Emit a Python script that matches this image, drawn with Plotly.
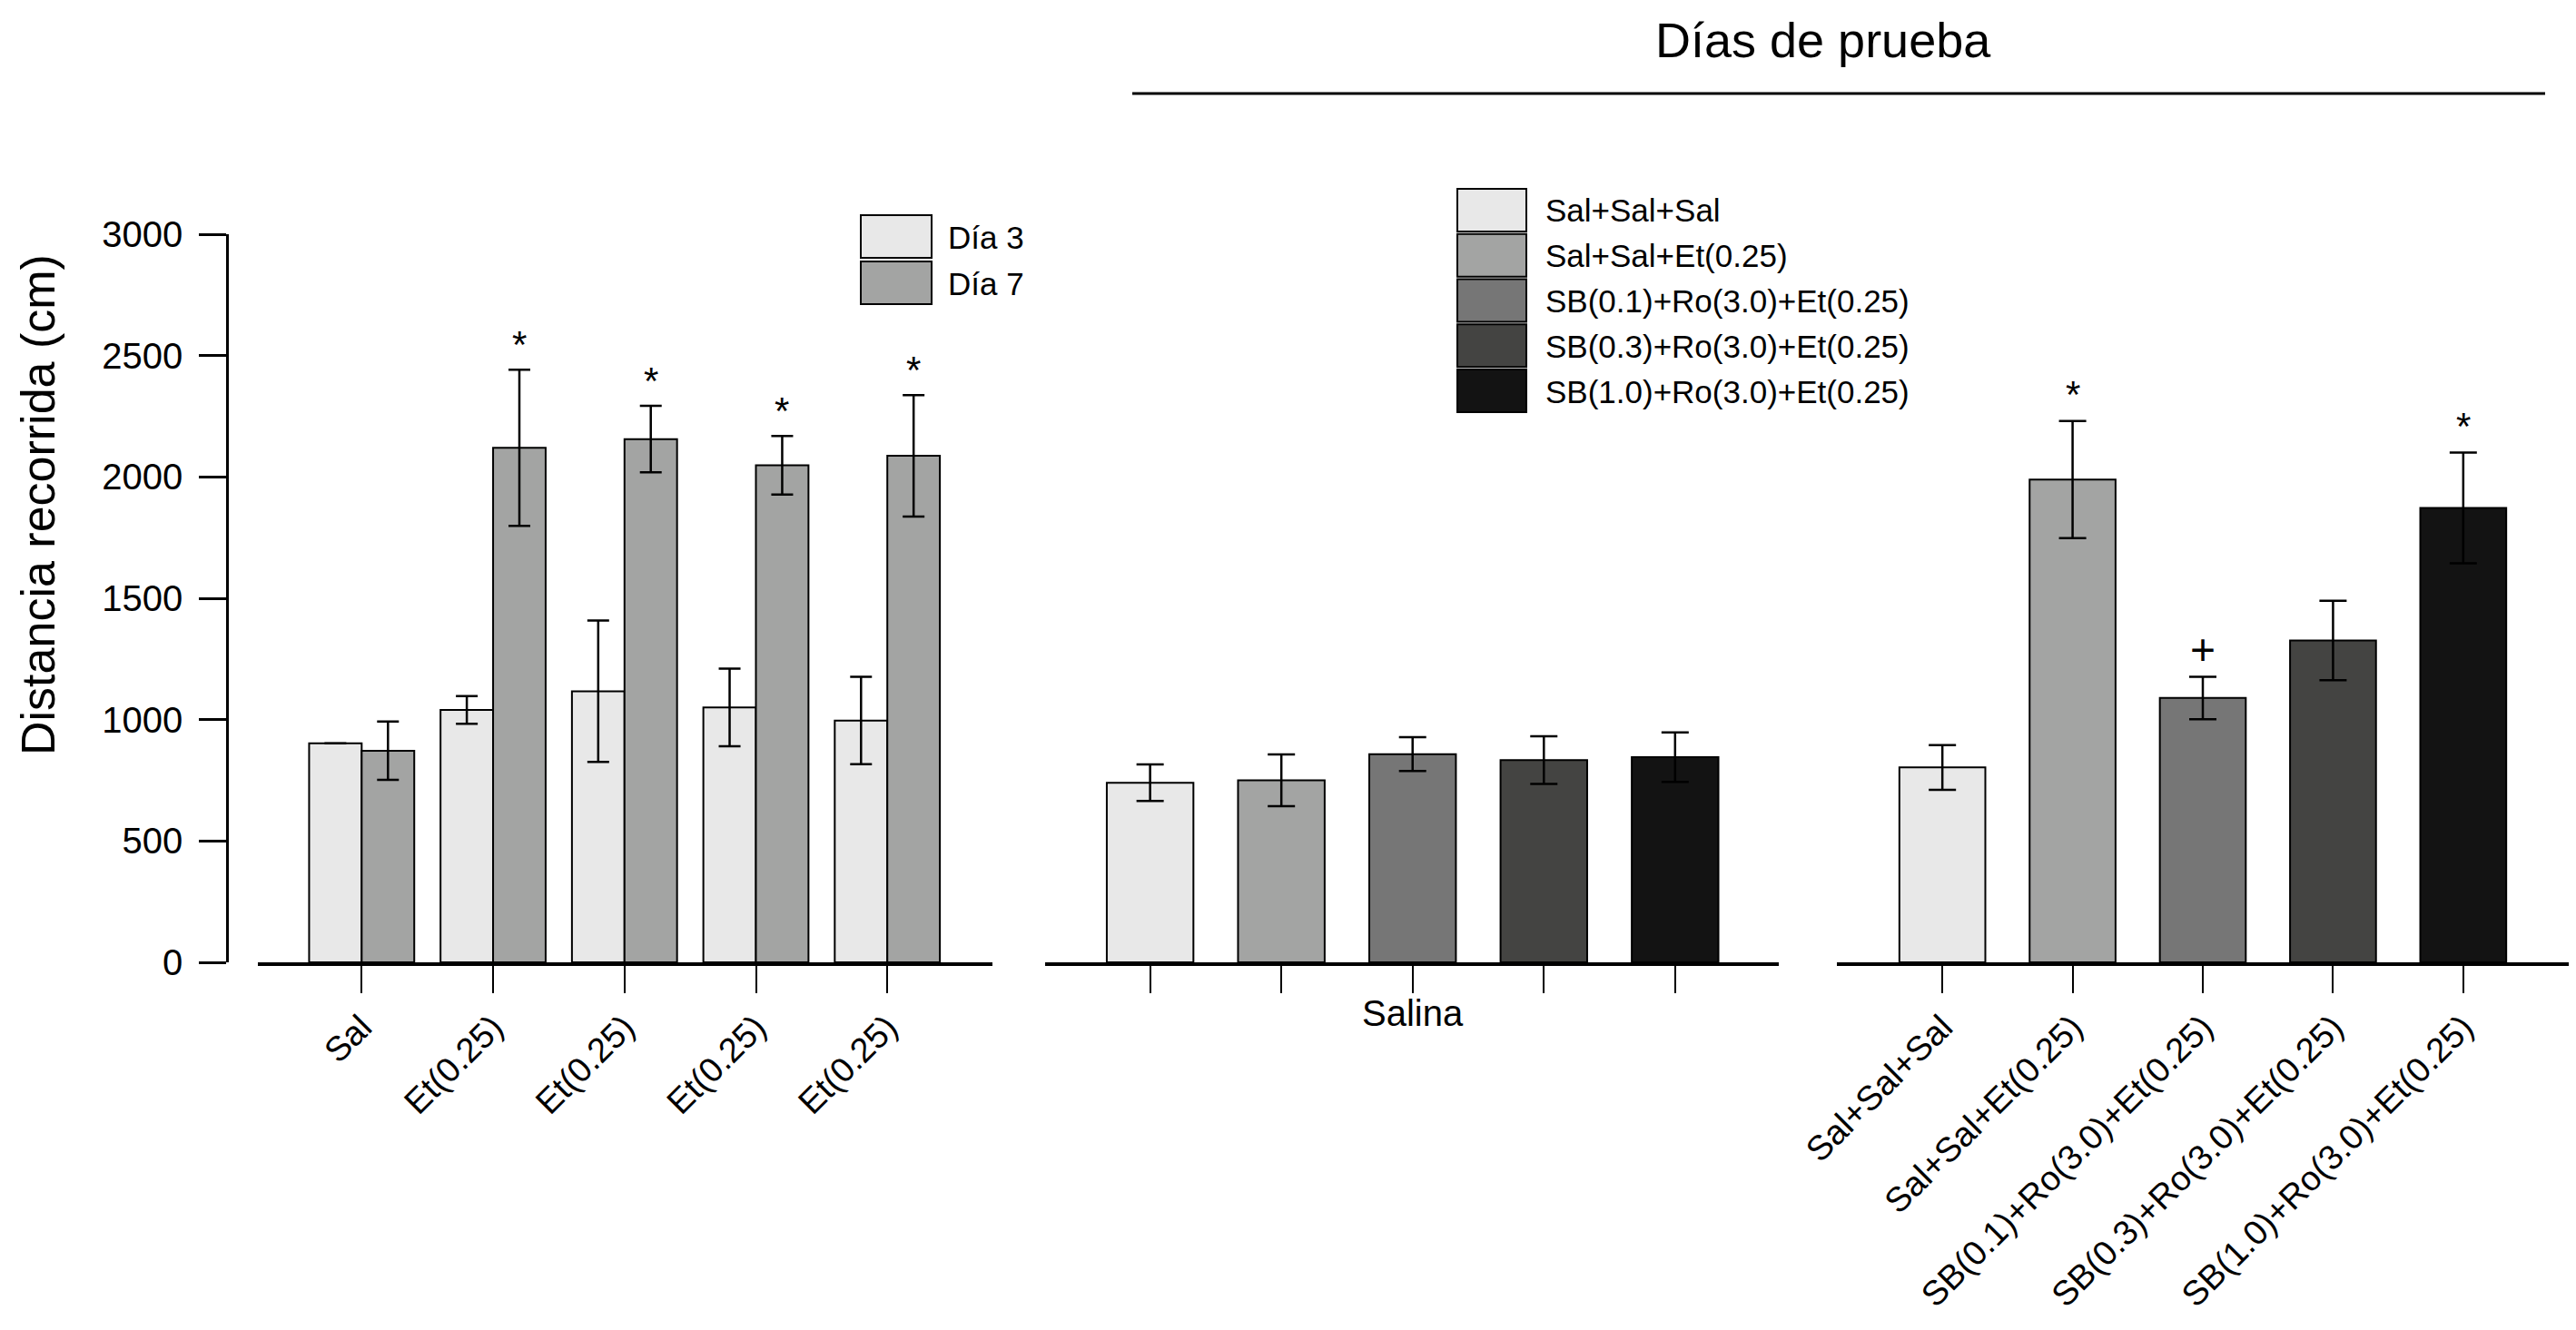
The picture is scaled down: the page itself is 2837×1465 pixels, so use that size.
import plotly.graph_objects as go

# ---- data ----
left_labels = ["Sal", "Et(0.25)", "Et(0.25)", "Et(0.25)", "Et(0.25)"]
dia3 = [902, 1040, 1117, 1050, 996]
dia3_err = [0, 57, 291, 160, 180]
dia7 = [872, 2120, 2156, 2048, 2087]
dia7_err = [120, 322, 137, 121, 250]
dia7_marks = ["", "*", "*", "*", "*"]

groups = ["Sal+Sal+Sal", "Sal+Sal+Et(0.25)", "SB(0.1)+Ro(3.0)+Et(0.25)",
          "SB(0.3)+Ro(3.0)+Et(0.25)", "SB(1.0)+Ro(3.0)+Et(0.25)"]
salina = [740, 750, 858, 833, 845]
salina_err = [75, 107, 70, 98, 102]
prueba = [803, 1989, 1089, 1326, 1872]
prueba_err = [92, 241, 87, 164, 228]
prueba_marks = ["", "*", "+", "", "*"]

day_names = ["Día 3", "Día 7"]
greys = ["#e8e8e8", "#a3a4a3", "#767676", "#444442", "#131313"]

# the page body adds an 8px margin, so the figure is drawn a bit smaller
OFF = 8
W, H = 2837 - 2 * OFF, 1465 - 2 * OFF
TOP, BOT = 258, 1060          # screen rows of 3000 and 0
FONT = "Liberation Sans, Arial, sans-serif"


def px_x(p):
    return min(1.0, (p - OFF) / W)


def px_y(p):
    return (BOT - p) / (BOT - TOP)


def txt(size):
    return dict(size=size, color="black", family=FONT)


idx = list(range(5))
fig = go.Figure()

# left panel: two days
for name, vals, errs, col in [(day_names[0], dia3, dia3_err, greys[0]),
                              (day_names[1], dia7, dia7_err, greys[1])]:
    fig.add_trace(go.Bar(
        x=idx, y=vals, name=name, xaxis="x", yaxis="y",
        marker=dict(color=col, line=dict(color="black", width=2)),
        error_y=dict(type="data", array=errs, color="black", thickness=2.5, width=12),
        width=0.4, showlegend=False))

# middle panel: salina
fig.add_trace(go.Bar(
    x=idx, y=salina, xaxis="x2", yaxis="y",
    marker=dict(color=greys, line=dict(color="black", width=2)),
    error_y=dict(type="data", array=salina_err, color="black", thickness=2.5, width=15),
    width=0.66, showlegend=False))

# right panel: test day
fig.add_trace(go.Bar(
    x=idx, y=prueba, xaxis="x3", yaxis="y",
    marker=dict(color=greys, line=dict(color="black", width=2)),
    error_y=dict(type="data", array=prueba_err, color="black", thickness=2.5, width=15),
    width=0.66, showlegend=False))

fig.update_layout(barmode="group", bargap=0.2, bargroupgap=0)

ann = []
# significance marks
for i, m in enumerate(dia7_marks):
    if m:
        ann.append(dict(x=i + 0.2, y=dia7[i] + dia7_err[i], xref="x", yref="y", text=m,
                        showarrow=False, yanchor="bottom", yshift=2, font=txt(42)))
for i, m in enumerate(prueba_marks):
    if m:
        ann.append(dict(x=i, y=prueba[i] + prueba_err[i], xref="x3", yref="y", text=m,
                        showarrow=False, yanchor="bottom", yshift=4 if m == "*" else 2,
                        font=txt(42 if m == "*" else 48)))

ann.append(dict(x=2, y=px_y(1116), xref="x2", yref="paper", text="Salina", showarrow=False,
                xanchor="center", yanchor="middle", font=txt(40)))
ann.append(dict(x=px_x(42), y=px_y(556), xref="paper", yref="paper", textangle=-90,
                text="Distancia recorrida (cm)", showarrow=False, borderpad=0,
                xanchor="center", yanchor="middle", font=txt(52)))
ann.append(dict(x=px_x(2008), y=px_y(44), xref="paper", yref="paper", text="Días de prueba",
                showarrow=False, borderpad=0, xanchor="center", yanchor="middle",
                font=txt(54)))

shapes = [dict(type="line", xref="paper", yref="paper", x0=px_x(1247), x1=px_x(2803),
               y0=px_y(103), y1=px_y(103), line=dict(color="black", width=3))]

# legend boxes
for k, name in enumerate(day_names):
    t = 237 + 51 * k
    shapes.append(dict(type="rect", xref="paper", yref="paper", x0=px_x(948), x1=px_x(1026),
                       y0=px_y(t + 47), y1=px_y(t), fillcolor=greys[k],
                       line=dict(color="black", width=2)))
    ann.append(dict(x=px_x(1042), y=px_y(t + 24), xref="paper", yref="paper", text=name,
                    xanchor="left", yanchor="middle", showarrow=False, font=txt(35)))
for k, name in enumerate(groups):
    t = 208 + 49.75 * k
    shapes.append(dict(type="rect", xref="paper", yref="paper", x0=px_x(1605), x1=px_x(1681),
                       y0=px_y(t + 47), y1=px_y(t), fillcolor=greys[k],
                       line=dict(color="black", width=2)))
    ann.append(dict(x=px_x(1700), y=px_y(t + 24), xref="paper", yref="paper", text=name,
                    xanchor="left", yanchor="middle", showarrow=False, font=txt(35)))

xcommon = dict(showline=True, linecolor="black", linewidth=4, ticks="outside", ticklen=30,
               tickwidth=2, tickcolor="black", showgrid=False, zeroline=False,
               anchor="y", automargin=False, tickvals=idx, tickfont=txt(38))

fig.update_layout(
    width=W, height=H,
    margin=dict(l=0, r=0, t=TOP - OFF, b=H - (BOT - OFF)),
    paper_bgcolor="white", plot_bgcolor="white",
    font=dict(family=FONT, color="black"),
    xaxis=dict(xcommon, domain=[px_x(284), px_x(1093)], range=[-0.79, 4.8],
               ticktext=left_labels, tickangle=-45),
    xaxis2=dict(xcommon, domain=[px_x(1151), px_x(1959)], range=[-0.8, 4.79],
                ticktext=[""] * 5),
    xaxis3=dict(xcommon, domain=[px_x(2023), px_x(2837)], range=[-0.81, 4.81],
                ticktext=groups, tickangle=-45),
    yaxis=dict(range=[0, 3000], tickvals=[0, 500, 1000, 1500, 2000, 2500, 3000],
               showline=True, linecolor="black", linewidth=2.5, ticks="outside",
               ticklen=30, tickwidth=2.5, tickcolor="black", showgrid=False,
               zeroline=False, anchor="free", position=px_x(250), automargin=False,
               ticklabelstandoff=10, tickfont=txt(40)),
    annotations=ann, shapes=shapes, showlegend=False,
)

fig.write_html("out.html")
